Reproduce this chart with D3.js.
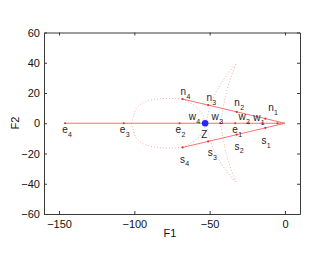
<!DOCTYPE html>
<html><head><meta charset="utf-8">
<script src="https://cdn.jsdelivr.net/npm/d3@7"></script>
<style>body{margin:0;background:#fff}svg{display:block}</style>
</head><body><svg id="c" width="332" height="256"></svg>
<script>
// ---- data (F1, F2) ----
const xTicks = [-150, -100, -50, 0];
const yTicks = [-60, -40, -20, 0, 20, 40, 60];
const eLine = [[-146, 0], [0, 0]];
const nLine = [[-68, 16], [0, 0]];
const sLine = [[-68, -16], [0, 0]];
const eMarks = [-146, -107, -70, -43, -33, -24, -15, -5];
const nMarks = [[-68, 16], [-51, 12], [-32, 7.5], [-13, 3]];
const sMarks = [[-68, -16], [-51, -12], [-32, -7.5], [-13, -3]];
const arcUp = [[-102, 0], [-100.5, 5], [-99, 9.5], [-96, 12.5], [-92.5, 14.3], [-88, 15.5], [-83.6, 16.1], [-76, 16.4], [-68, 16]];
const arcDn = [[-102, 0], [-100.5, -5], [-99, -9.5], [-96, -12.5], [-92.5, -14.3], [-88, -15.5], [-83.6, -16.1], [-76, -16.4], [-68, -16]];
const nToZ = [[-68, 16], [-64, 14], [-60, 11.7], [-57.5, 9.5], [-55.7, 7.3], [-54, 4], [-53, 0]];
const sToZ = [[-68, -16], [-64, -14], [-60, -11.7], [-57.5, -9.5], [-55.7, -7.3], [-54, -4], [-53, 0]];
const zUp = [[-53, 0], [-51, 6], [-48.3, 15], [-44, 24], [-38.5, 32], [-32, 40]];
const zDn = [[-53, 0], [-51, -6], [-48.3, -15], [-44, -24], [-38.5, -32], [-32, -40]];
const wUp = [[-43, 0], [-41, 10], [-39, 20], [-36, 30], [-32, 40]];
const wDn = [[-43, 0], [-41, -10], [-39, -20], [-36, -30], [-32, -40]];
const zPoint = [-53, 0];
const labelNames = ["n","n","n","n","w","w","w","w","e","e","e","e","Z","s","s","s","s"];
const labelSubs  = ["4","3","2","1","4","3","2","1","4","3","2","1","","1","2","3","4"];
const labelF1 = [-67.5, -50.3, -31.8, -9.3, -61.5, -46.3, -28.5, -18.6, -146.1, -107.8, -70.8, -33.1, -53.6, -13.9, -31.8, -49.6, -68.1];
const labelF2 = [20.3, 16.3, 13.0, 9.7, 3.8, 3.8, 3.8, 3.1, -4.8, -4.8, -4.8, -4.8, -7.5, -12.1, -16.0, -20.0, -24.6];

// ---- chart ----
const svg = d3.select("#c");
const L = 44, R = 300, T = 32.5, B = 214;
const x = d3.scaleLinear().domain([-160, 10]).range([L, R]);
const y = d3.scaleLinear().domain([-60, 60]).range([B, T]);
const font = "'Liberation Sans', Arial, Helvetica, sans-serif";
const axisCol = "#3a3a3a";

const line = d3.line().x(d => x(d[0])).y(d => y(d[1]));
const curve = d3.line().x(d => x(d[0])).y(d => y(d[1])).curve(d3.curveCatmullRom);

// dotted curves
[arcUp, arcDn, nToZ, sToZ, zUp, zDn, wUp, wDn].forEach(c => {
  svg.append("path").attr("d", curve(c)).attr("fill", "none")
    .attr("stroke", "#ffa8a8").attr("stroke-width", 1).attr("stroke-dasharray", "1,2");
});
// solid lines
[eLine, nLine, sLine].forEach(c => {
  svg.append("path").attr("d", line(c)).attr("fill", "none")
    .attr("stroke", "#ff7070").attr("stroke-width", 1);
});
// markers
const marks = eMarks.map(v => [v, 0]).concat(nMarks, sMarks);
svg.selectAll("circle.m").data(marks).enter().append("circle")
  .attr("cx", d => x(d[0])).attr("cy", d => y(d[1])).attr("r", 1.1).attr("fill", "#e83030");
svg.append("circle").attr("cx", x(zPoint[0])).attr("cy", y(zPoint[1])).attr("r", 3.3).attr("fill", "#1f2cff");

// labels
labelNames.forEach((n, i) => {
  const px = x(labelF1[i]), py = y(labelF2[i]);
  const isCap = n === "Z";
  const t = svg.append("text").attr("font-family", font).attr("font-size", 10).attr("fill", "#222")
    .attr("text-anchor", "middle").attr("x", px).attr("y", py + (isCap ? 3.6 : 2.7)).text(n);
  const w = t.node().getComputedTextLength();
  if (labelSubs[i]) {
    svg.append("text").attr("font-family", font).attr("font-size", 7).attr("fill", "#222")
      .attr("x", px + w / 2 + 0.3).attr("y", py + 6).text(labelSubs[i]);
  }
});

// axes box
const xAxB = d3.axisBottom(x).tickValues(xTicks).tickSizeInner(-3).tickSizeOuter(0).tickPadding(6);
const xAxT = d3.axisTop(x).tickValues(xTicks).tickSizeInner(-3).tickSizeOuter(0).tickFormat("");
const yAxL = d3.axisLeft(y).tickValues(yTicks).tickSizeInner(-3).tickSizeOuter(0).tickPadding(4);
const yAxR = d3.axisRight(y).tickValues(yTicks).tickSizeInner(-3).tickSizeOuter(0).tickFormat("");
const fmt = d => d < 0 ? "\u2212" + Math.abs(d) : String(d);
xAxB.tickFormat(fmt); yAxL.tickFormat(fmt);
const gs = [
  svg.append("g").attr("transform", `translate(0,${B})`).call(xAxB),
  svg.append("g").attr("transform", `translate(0,${T})`).call(xAxT),
  svg.append("g").attr("transform", `translate(${L},0)`).call(yAxL),
  svg.append("g").attr("transform", `translate(${R},0)`).call(yAxR)
];
gs.forEach(g => {
  g.selectAll("path,line").attr("stroke", axisCol);
  g.selectAll("text").attr("font-family", font).attr("font-size", 11).attr("fill", "#111");
});
svg.append("text").attr("x", 170).attr("y", 237).attr("text-anchor", "middle")
  .attr("font-family", font).attr("font-size", 11).attr("fill", "#111").text("F1");
svg.append("text").attr("transform", "translate(19,123) rotate(-90)").attr("text-anchor", "middle")
  .attr("font-family", font).attr("font-size", 11).attr("fill", "#111").text("F2");
</script></body></html>
